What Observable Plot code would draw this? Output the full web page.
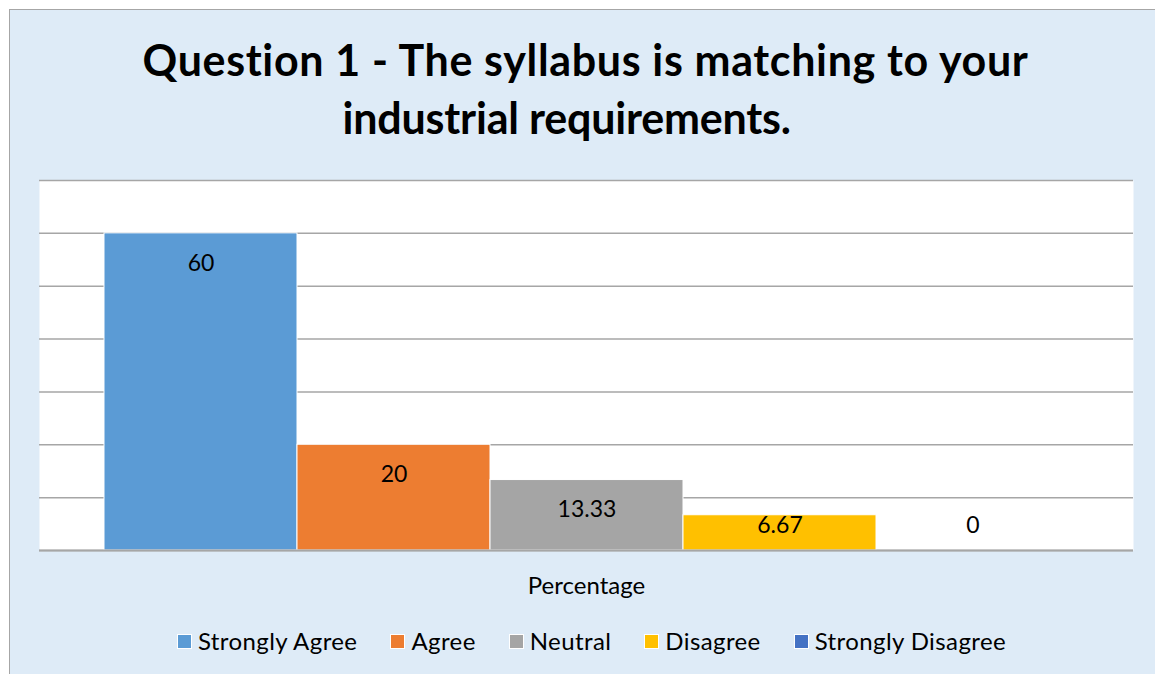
<!DOCTYPE html>
<html>
<head>
<meta charset="utf-8">
<script src="https://cdn.jsdelivr.net/npm/d3@7"></script>
<script src="https://cdn.jsdelivr.net/npm/@observablehq/plot@0.6"></script>
<style>
  html, body { margin: 0; padding: 0; background: #ffffff; width: 1155px; height: 674px; overflow: hidden; }
  body { position: relative; font-family: Lato, "Open Sans", sans-serif; font-variant-ligatures: none; }
  .box { position: absolute; left: 9px; top: 9px; width: 1200px; height: 700px; background: #deebf7;
         border-left: 1.5px solid #a6a6a6; border-top: 1.5px solid #a6a6a6; }
  .title { position: absolute; width: 1200px; text-align: center; font-weight: 700; font-size: 43px;
           line-height: 43px; color: #000; white-space: nowrap; }
  #chart { position: absolute; left: 0; top: 160px; }
  #chart svg text { font-variant-ligatures: none; }
  .legend { position: absolute; left: 0; width: 1183px; top: 629px; display: flex; justify-content: center;
            gap: 33px; font-size: 24px; line-height: 24px; letter-spacing: 0.4px; color: #000; }
  .legend .item { display: flex; align-items: center; gap: 6px; white-space: nowrap; }
  .legend .sw { width: 13px; height: 13px; border: 1px solid #fff; }
</style>
</head>
<body>
<div class="box"></div>
<div class="title" id="t1" style="left:-14.5px; top:38px; letter-spacing:0.65px;"></div>
<div class="title" id="t2" style="left:-33.3px; top:96px; letter-spacing:-0.2px;"></div>
<div id="chart"></div>
<div class="legend" id="legend"></div>
<script>
const titleLines = ["Question 1 - The syllabus is matching to your", "industrial requirements."];
const categories = ["Percentage"];
const series = ["Strongly Agree", "Agree", "Neutral", "Disagree", "Strongly Disagree"];
const values = [60, 20, 13.33, 6.67, 0];
const valueLabels = ["60", "20", "13.33", "6.67", "0"];
const colors = ["#5b9bd5", "#ed7d31", "#a5a5a5", "#ffc000", "#4472c4"];
const yTicks = [0, 10, 20, 30, 40, 50, 60, 70];

document.getElementById("t1").textContent = titleLines[0];
document.getElementById("t2").textContent = titleLines[1];

const data = series.map((s, i) => ({category: categories[0], series: s, value: values[i], label: valueLabels[i]}));

const textOpts = {fx: "category", x: "series", y: "value", text: "label", fill: "#000", fontSize: 23};

const chart = Plot.plot({
  width: 1155,
  height: 460,
  marginLeft: 39,
  marginRight: 22,
  marginTop: 20,
  marginBottom: 70,
  style: {background: "transparent", fontFamily: "Lato, 'Open Sans', sans-serif", fontSize: "23px", color: "#000"},
  fx: {domain: categories, padding: 0, label: null},
  x: {domain: series, paddingInner: 0, paddingOuter: 0.33, axis: null},
  y: {domain: [yTicks[0], yTicks[yTicks.length - 1]], axis: null},
  color: {domain: series, range: colors},
  marks: [
    Plot.frame({fill: "#ffffff", stroke: null}),
    Plot.gridY(yTicks, {stroke: "#a6a6a6", strokeOpacity: 1, strokeWidth: 1.5}),
    Plot.barY(data, {fx: "category", x: "series", y: "value", fill: "series", stroke: "#ffffff", strokeWidth: 1}),
    Plot.ruleY([yTicks[0]], {stroke: "#a6a6a6", strokeWidth: 2}),
    Plot.text(data.filter(d => d.value >= 10), {...textOpts, dy: 30}),
    Plot.text(data.filter(d => d.value > 0 && d.value < 10), {...textOpts, dy: 10}),
    Plot.text(data.filter(d => d.value === 0), {...textOpts, dy: -25}),
    Plot.axisFx({anchor: "bottom", tickSize: 0, tickPadding: 26, fontSize: 24, label: null,
                 style: {letterSpacing: "0.3px"}})
  ]
});
document.getElementById("chart").appendChild(chart);

const legend = document.getElementById("legend");
series.forEach((s, i) => {
  const item = document.createElement("div");
  item.className = "item";
  const sw = document.createElement("div");
  sw.className = "sw";
  sw.style.background = colors[i];
  const label = document.createElement("span");
  label.textContent = s;
  item.appendChild(sw);
  item.appendChild(label);
  legend.appendChild(item);
});
</script>
</body>
</html>
